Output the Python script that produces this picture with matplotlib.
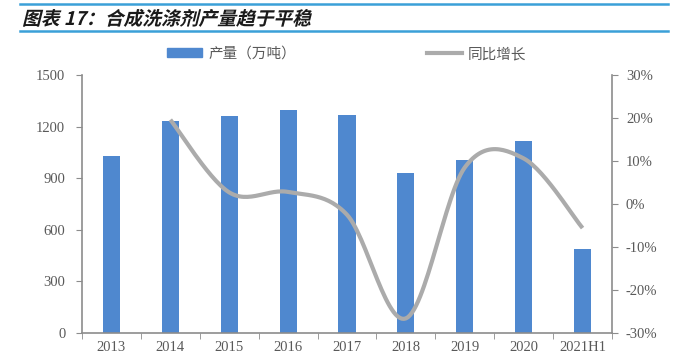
import numpy as np
import matplotlib.pyplot as plt
from matplotlib.textpath import TextPath
from matplotlib.patches import PathPatch
from matplotlib.font_manager import FontProperties
from matplotlib.transforms import Affine2D
from matplotlib.lines import Line2D
from matplotlib.patches import Patch

years = ["2013", "2014", "2015", "2016", "2017", "2018", "2019", "2020", "2021H1"]
output = [1031, 1231, 1263, 1298, 1266, 928, 1006, 1115, 487]
growth_years = ["2014", "2015", "2016", "2017", "2018", "2019", "2020", "2021H1"]
growth = [19.6, 2.7, 2.8, -2.5, -26.6, 8.5, 10.6, -5.6]

left_ticks = [0, 300, 600, 900, 1200, 1500]
right_ticks = [-30, -20, -10, 0, 10, 20, 30]

bar_color = "#4F88CF"
line_color = "#ABABAB"
axis_color = "#8C8C8C"
text_color = "#595959"

plt.rcParams['font.family'] = ['Liberation Serif', 'Noto Sans CJK SC', 'DejaVu Sans']


def cardinal(xs, ys, n=30, tension=0.5):
    # Excel style smoothed line through the data points
    xs = np.asarray(xs, float)
    ys = np.asarray(ys, float)
    px = np.concatenate([[xs[0]], xs, [xs[-1]]])
    py = np.concatenate([[ys[0]], ys, [ys[-1]]])
    outx, outy = [], []
    for i in range(1, len(px) - 2):
        p0, p1, p2, p3 = [np.array([px[j], py[j]]) for j in (i - 1, i, i + 1, i + 2)]
        c1 = p1 + (p2 - p0) * tension / 3
        c2 = p2 - (p3 - p1) * tension / 3
        t = np.linspace(0, 1, n)[:, None]
        pts = (1 - t) ** 3 * p1 + 3 * (1 - t) ** 2 * t * c1 + 3 * (1 - t) * t ** 2 * c2 + t ** 3 * p2
        outx.extend(pts[:, 0])
        outy.extend(pts[:, 1])
    return np.array(outx), np.array(outy)


fig = plt.figure(figsize=(6.76, 3.57), dpi=100)
W, H = 676, 357
ax = fig.add_axes([82 / W, 1 - 333 / H, (612 - 82) / W, (333 - 75) / H])

x = np.arange(len(years))
ax.bar(x, output, width=0.29, color=bar_color, zorder=2)
ax.set_xlim(-0.5, len(years) - 0.5)
ax.set_ylim(0, 1500)
ax.set_yticks(left_ticks)
ax.set_xticks(x)
ax.set_xticklabels(years)
ax.set_xticks(np.arange(len(years) + 1) - 0.5, minor=True)
ax.tick_params(axis='x', which='major', length=0, pad=6, labelsize=10.5, colors=text_color)
ax.tick_params(axis='x', which='minor', length=4, direction='out', color=axis_color)
ax.tick_params(axis='y', length=4, direction='out', color=axis_color, labelsize=10.5,
               labelcolor=text_color, pad=8)
for s in ['top', 'right']:
    ax.spines[s].set_visible(False)
for s in ['left', 'bottom']:
    ax.spines[s].set_color(axis_color)
    ax.spines[s].set_linewidth(1.2)

ax2 = ax.twinx()
gx = [years.index(y) for y in growth_years]
sx, sy = cardinal(gx, growth)
ax2.plot(sx, sy, color=line_color, lw=3, solid_capstyle='butt', zorder=3)
ax2.set_ylim(-30, 30)
ax2.set_yticks(right_ticks)
ax2.set_yticklabels([f"{v}%" for v in right_ticks])
ax2.tick_params(axis='y', length=4, direction='out', color=axis_color, labelsize=10.5,
                labelcolor=text_color, pad=6)
for s in ['top', 'left', 'bottom']:
    ax2.spines[s].set_visible(False)
ax2.spines['right'].set_color(axis_color)
ax2.spines['right'].set_linewidth(1.2)

handles = [Patch(color=bar_color), Line2D([], [], color=line_color, lw=3)]
fig.legend(handles, ["产量（万吨）", "同比增长"], loc='center', bbox_to_anchor=(347 / W, 1 - 54 / H),
           ncol=2, frameon=False, columnspacing=9, handlelength=2.4, handleheight=0.6,
           handletextpad=0.4, prop={'family': 'Noto Sans CJK SC', 'size': 10.5},
           labelcolor=text_color)

# header lines
for yy in [4, 31]:
    fig.add_artist(Line2D([20 / W, 668 / W], [1 - yy / H, 1 - yy / H], color="#3BA0D8", lw=1.8))

# bold italic title (skewed glyphs)
fp = FontProperties(family='Noto Sans CJK SC', weight='bold')
tp = TextPath((0, 0), "图表 17：合成洗涤剂产量趋于平稳", size=13.5, prop=fp)
tr = Affine2D().skew_deg(14, 0).scale(1 / 72).translate(22 / 100, (H - 25) / 100) + fig.dpi_scale_trans
fig.add_artist(PathPatch(tp, transform=tr, color="#1A1A1A", lw=0))

fig.savefig("out.png", dpi=100)
